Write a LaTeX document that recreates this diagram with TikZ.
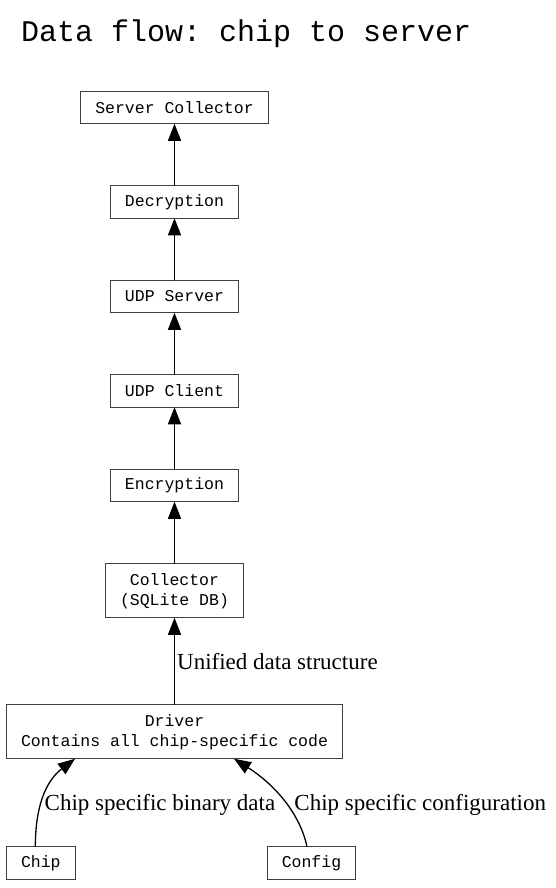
\documentclass[tikz,border=0pt]{standalone}
\usepackage{fontspec}
\setmainfont{Liberation Serif}
\setmonofont{Liberation Mono}
\usepackage{tikz}
\usetikzlibrary{positioning, arrows.meta, calc}

\begin{document}
\begin{tikzpicture}[
    block/.style={draw=black!75, line width=1pt, rectangle, minimum height=32.5pt, outer sep=0pt, inner xsep=14.5pt, inner ysep=0pt, align=center, font=\ttfamily\fontsize{16.5}{20}\selectfont},
    tallblock/.style={block, minimum height=54pt},
    flow/.style={line width=1.3pt, -{Triangle[length=17pt, width=13pt]}},
    flowlabel/.style={font=\rmfamily\fontsize{23}{26}\selectfont, inner sep=0pt},
    heading/.style={font=\ttfamily\fontsize{30}{34}\selectfont, inner sep=0pt}
]
\useasboundingbox (0pt,0pt) rectangle (555pt,-888pt);

% Knoten
\node[heading, anchor=base west] (title) at (21pt,-42pt) {Data flow: chip to server};
\node[block] (server) at (174.5pt,-107.5pt) {Server Collector};
\node[block, below=62pt of server] (decrypt) {Decryption};
\node[block, below=62pt of decrypt] (udpserver) {UDP Server};
\node[block, below=62pt of udpserver] (udpclient) {UDP Client};
\node[block, below=62pt of udpclient] (encrypt) {Encryption};
\node[tallblock, below=62pt of encrypt] (collector) {Collector\\(SQLite DB)};
\node[tallblock, below=87pt of collector] (driver) {Driver\\Contains all chip-specific code};
\node[block, below right=88pt and 0pt of driver.south west] (chip) {Chip};
\node[block, below=88pt of driver.south, xshift=137pt] (config) {Config};

% Kanten
\draw[flow] (decrypt) -- (server);
\draw[flow] (udpserver) -- (decrypt);
\draw[flow] (udpclient) -- (udpserver);
\draw[flow] (encrypt) -- (udpclient);
\draw[flow] (collector) -- (encrypt);
\draw[flow] (driver) -- (collector) node[midway, anchor=west, flowlabel, xshift=2pt] {Unified data structure};
\draw[flow] ([xshift=-5.5pt]chip.north) .. controls +(0pt,48pt) and +(-25pt,-19pt) .. ([xshift=-99.5pt]driver.south)
    node[pos=0.35, anchor=west, flowlabel, xshift=3.5pt] {Chip specific binary data};
\draw[flow] ([xshift=-4.5pt]config.north) .. controls +(-7pt,33pt) and +(41pt,-26pt) .. ([xshift=59.5pt]driver.south)
    node[pos=0.45, anchor=west, flowlabel, xshift=7pt] {Chip specific configuration};

\end{tikzpicture}
\end{document}
